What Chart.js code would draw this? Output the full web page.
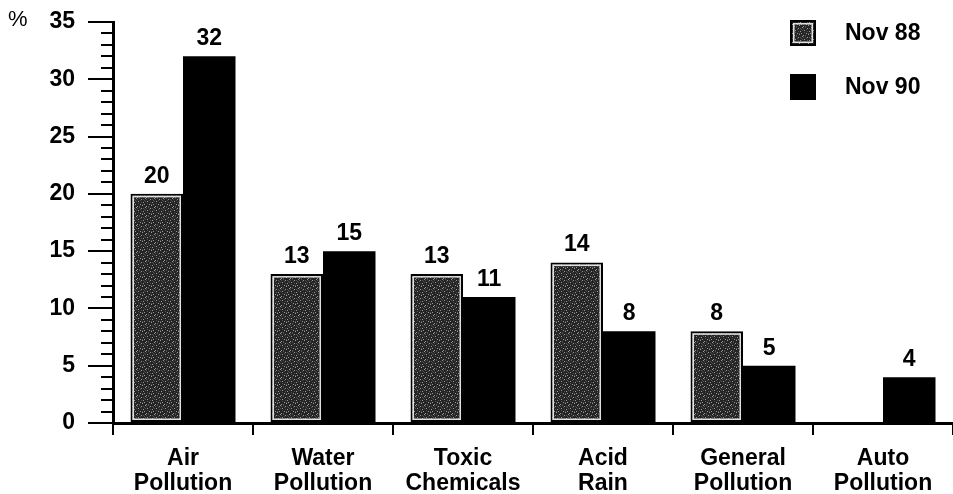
<!DOCTYPE html>
<html>
<head>
<meta charset="utf-8">
<script src="https://cdn.jsdelivr.net/npm/chart.js@4"></script>
<style>
  html, body { margin: 0; padding: 0; background: #fff; overflow: hidden; }
  #wrap { width: 953px; height: 494px; }
</style>
</head>
<body>
<div id="wrap"><canvas id="c" width="953" height="494"></canvas></div>
<script>
// Share of people naming each issue as the most serious environmental problem
const categories = [
  ['Air', 'Pollution'],
  ['Water', 'Pollution'],
  ['Toxic', 'Chemicals'],
  ['Acid', 'Rain'],
  ['General', 'Pollution'],
  ['Auto', 'Pollution']
];
const seriesNames = ['Nov 88', 'Nov 90'];
const nov88 = [20, 13, 13, 14, 8, null];
const nov90 = [32, 15, 11, 8, 5, 4];
const yTicks = [0, 5, 10, 15, 20, 25, 30, 35];

const FONT = '"Liberation Sans", Arial, Helvetica, sans-serif';

// Speckled dark-grey fill for the first series
function makeTexture() {
  const t = document.createElement('canvas');
  t.width = 9; t.height = 9;
  const g = t.getContext('2d');
  g.fillStyle = '#242424';
  g.fillRect(0, 0, 9, 9);
  const light = [[1,0],[6,1],[3,3],[8,4],[0,6],[5,6],[2,8],[7,7]];
  const mid = [[4,0],[8,1],[1,3],[6,4],[3,5],[7,6],[0,2],[4,8],[2,1],[5,2]];
  g.fillStyle = '#9a9a9a';
  light.forEach(([x, y]) => g.fillRect(x, y, 1, 1));
  g.fillStyle = '#505050';
  mid.forEach(([x, y]) => g.fillRect(x, y, 1, 1));
  return g.createPattern(t, 'repeat');
}

const ctx = document.getElementById('c').getContext('2d');
const texture = makeTexture();

const decorations = {
  id: 'decorations',
  afterDatasetsDraw(chart) {
    const c = chart.ctx;
    // light inner rim on the textured bars
    const m0 = chart.getDatasetMeta(0);
    c.save();
    c.strokeStyle = '#e0e0e0';
    c.lineWidth = 1.5;
    m0.data.forEach((bar, i) => {
      if (nov88[i] == null) return;
      const { x, y, base, width } = bar.getProps(['x', 'y', 'base', 'width'], true);
      const l = x - width / 2, r = x + width / 2;
      c.strokeRect(l + 2.75, y + 2.75, (r - l) - 5.5, (base - y) - 5.5);
    });
    c.restore();

    // value labels above bars
    c.save();
    c.fillStyle = '#000';
    c.font = 'bold 23px ' + FONT;
    c.textAlign = 'center';
    c.textBaseline = 'bottom';
    [nov88, nov90].forEach((vals, di) => {
      const meta = chart.getDatasetMeta(di);
      meta.data.forEach((bar, i) => {
        if (vals[i] == null) return;
        c.fillText(String(vals[i]), bar.x, bar.y - 6);
      });
    });
    c.restore();
  },
  afterDraw(chart) {
    const c = chart.ctx;
    const ys = chart.scales.y;
    const axisX = ys.right;
    // minor ticks every 1 %
    c.save();
    c.strokeStyle = '#000';
    c.lineWidth = 2;
    for (let v = 1; v < 35; v++) {
      if (v % 5 === 0) continue;
      const py = Math.round(ys.getPixelForValue(v));
      c.beginPath();
      c.moveTo(axisX - 12, py);
      c.lineTo(axisX, py);
      c.stroke();
    }
    c.restore();

    // unit label
    c.save();
    c.fillStyle = '#000';
    c.font = '22px ' + FONT;
    c.textBaseline = 'middle';
    c.fillText('%', 8, 20);
    c.restore();

    // legend
    c.save();
    const items = [
      { name: seriesNames[0], fill: texture, y: 20 },
      { name: seriesNames[1], fill: '#000', y: 74 }
    ];
    items.forEach(it => {
      c.fillStyle = it.fill;
      c.fillRect(790, it.y, 26, 26);
      c.strokeStyle = '#000';
      c.lineWidth = 2;
      c.strokeRect(791, it.y + 1, 24, 24);
      if (it.fill !== '#000') {
        c.strokeStyle = '#e0e0e0';
        c.lineWidth = 1.5;
        c.strokeRect(793.75, it.y + 3.75, 18.5, 18.5);
      }
      c.fillStyle = '#000';
      c.font = 'bold 23px ' + FONT;
      c.textBaseline = 'middle';
      c.fillText(it.name, 845, it.y + 14);
    });
    c.restore();
  }
};

new Chart(ctx, {
  type: 'bar',
  data: {
    labels: categories,
    datasets: [
      {
        label: seriesNames[0],
        data: nov88,
        backgroundColor: texture,
        borderColor: '#000',
        borderWidth: 2,
        borderSkipped: false
      },
      {
        label: seriesNames[1],
        data: nov90,
        backgroundColor: '#000',
        borderWidth: 0
      }
    ]
  },
  options: {
    responsive: false,
    animation: false,
    events: [],
    layout: { padding: { top: 22, left: 0, right: 0, bottom: 0 } },
    plugins: { legend: { display: false }, tooltip: { enabled: false } },
    datasets: { bar: { categoryPercentage: 0.75, barPercentage: 1 } },
    scales: {
      x: {
        grid: { drawOnChartArea: false, offset: true, color: '#000', lineWidth: 2, tickLength: 12 },
        border: { color: '#000', width: 3 },
        ticks: {
          color: '#000',
          font: { family: FONT, size: 23, weight: 'bold', lineHeight: 1.1 },
          padding: 11,
          maxRotation: 0,
          autoSkip: false
        },
        afterFit(s) { s.height = 71; s.paddingLeft = 0; s.paddingRight = 0; }
      },
      y: {
        min: 0,
        max: 35,
        afterBuildTicks(s) { s.ticks = yTicks.map(v => ({ value: v })); },
        grid: { drawOnChartArea: false, color: '#000', lineWidth: 2, tickLength: 25 },
        border: { color: '#000', width: 3 },
        ticks: {
          color: '#000',
          font: { family: FONT, size: 23, weight: 'bold' },
          padding: 13
        },
        afterFit(s) { s.width = 113; s.paddingTop = 0; s.paddingBottom = 0; }
      }
    }
  },
  plugins: [decorations]
});
</script>
</body>
</html>
